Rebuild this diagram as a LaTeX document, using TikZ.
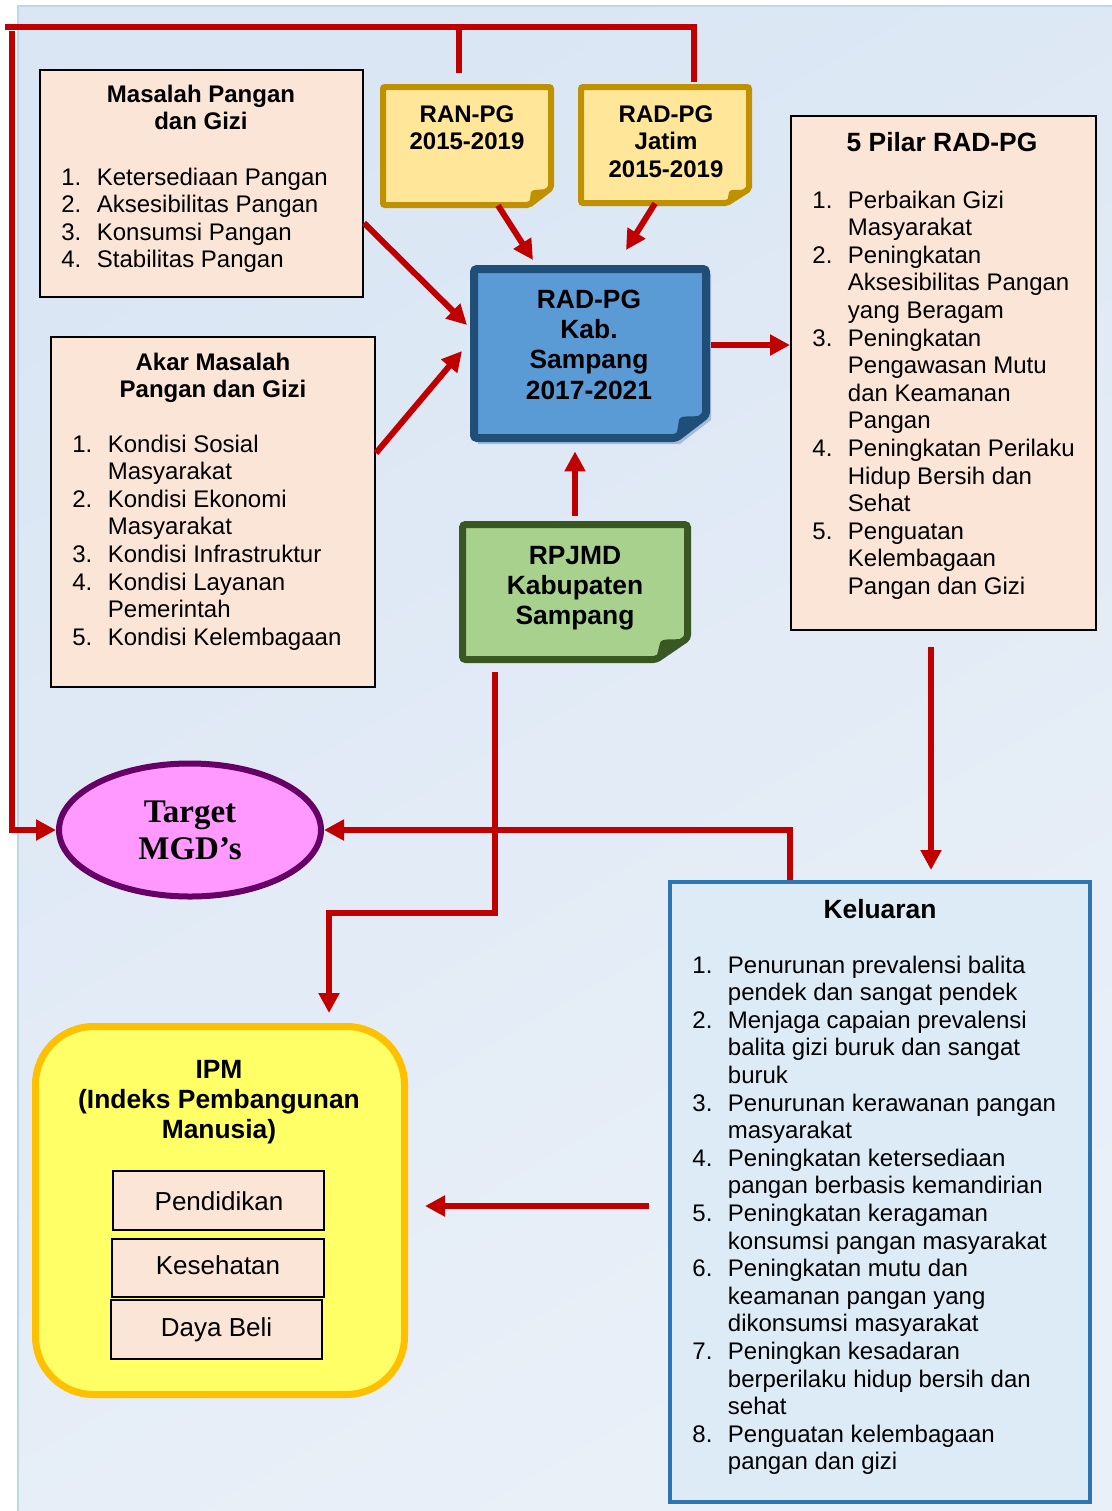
\documentclass[tikz,border=0pt]{standalone}
\usepackage{fontspec}
\setmainfont{Liberation Sans}
\newfontfamily\serifbf{Liberation Serif}
\usetikzlibrary{arrows.meta,fit,calc,shapes.geometric}
\definecolor{redl}{HTML}{C00000}
\definecolor{peach}{HTML}{FBE5D6}
\definecolor{goldb}{HTML}{BF9000}
\definecolor{goldf}{HTML}{FFE699}
\definecolor{blueb}{HTML}{1F4E79}
\definecolor{bluef}{HTML}{5B9BD5}
\definecolor{greenb}{HTML}{385723}
\definecolor{greenf}{HTML}{A9D18E}
\definecolor{pinkf}{HTML}{FF99FF}
\definecolor{purpb}{HTML}{660066}
\definecolor{kelb}{HTML}{2E75B6}
\definecolor{kelf}{HTML}{DDEBF7}
\definecolor{ipmf}{HTML}{FFFF66}
\definecolor{ipmb}{HTML}{FFC000}
\definecolor{bgA}{HTML}{DAE6F4}
\definecolor{bgB}{HTML}{EAF0F8}
\definecolor{bgline}{HTML}{BDD7EE}
\definecolor{kabshadow}{HTML}{A6BCDD}
\newcommand\nm[1]{\makebox[17.75pt][l]{#1}}
\newcommand\lst[1]{\begin{tabular}[t]{@{}l@{}}#1\end{tabular}}
\newcommand\ctr[1]{\begin{tabular}[t]{@{}c@{}}#1\end{tabular}}
\tikzset{
  conn/.style={draw=redl, line width=3pt},
  arr/.style={conn, -{Triangle[width=10pt,length=10pt]}},
  region/.style={inner sep=0pt},
  pbox/.style={region, draw=black, line width=1pt, fill=peach},
  sbox/.style={region, draw=black, line width=0.8pt, fill=peach},
  lsttext/.style={inner sep=0pt, anchor=base west, font=\fontsize{12}{13.8}\selectfont},
  ttl/.style={inner sep=0pt, anchor=base, font=\bfseries\fontsize{12}{13.8}\selectfont},
  bigttl/.style={inner sep=0pt, anchor=base, font=\bfseries\fontsize{13.2}{15.2}\selectfont},
  subtext/.style={inner sep=0pt, anchor=base, font=\fontsize{13}{15}\selectfont},
  goldnote/.style={draw=goldb, fill=goldf, line width=3pt, rounded corners=1pt},
}
\begin{document}
\begin{tikzpicture}[x=0.5pt,y=-0.5pt]
\useasboundingbox (0,0) rectangle (1112,1511);
% background
\path[top color=bgA, bottom color=bgB, shading angle=30] (18,6) rectangle (1112,1511);
\draw[bgline, line width=0.75pt] (1112,6) -- (18,6) -- (18,1511);

% ---- Masalah Pangan dan Gizi
\node[pbox, fit={(40,70)(363,297)}] (mas) {};
\node[ttl] (masT) at (201,102) {\ctr{Masalah Pangan\\dan Gizi}};
\node[lsttext] (masL) at (61,185) {\lst{\nm{1.}Ketersediaan Pangan\\\nm{2.}Aksesibilitas Pangan\\\nm{3.}Konsumsi Pangan\\\nm{4.}Stabilitas Pangan}};

% ---- Akar Masalah
\node[pbox, fit={(51,337)(375,687)}] (akar) {};
\node[ttl] (akarT) at (213,370) {\ctr{Akar Masalah\\Pangan dan Gizi}};
\node[lsttext] (akarL) at (72,452) {\lst{\nm{1.}Kondisi Sosial\\\nm{}Masyarakat\\\nm{2.}Kondisi Ekonomi\\\nm{}Masyarakat\\\nm{3.}Kondisi Infrastruktur\\\nm{4.}Kondisi Layanan\\\nm{}Pemerintah\\\nm{5.}Kondisi Kelembagaan}};

% ---- 5 Pilar
\node[pbox, fit={(791,116)(1096,630)}] (pilar) {};
\node[bigttl] (pilarT) at (942,151) {5 Pilar RAD-PG};
\node[lsttext] (pilarL) at (812,208) {\lst{\nm{1.}Perbaikan Gizi\\\nm{}Masyarakat\\\nm{2.}Peningkatan\\\nm{}Aksesibilitas Pangan\\\nm{}yang Beragam\\\nm{3.}Peningkatan\\\nm{}Pengawasan Mutu\\\nm{}dan Keamanan\\\nm{}Pangan\\\nm{4.}Peningkatan Perilaku\\\nm{}Hidup Bersih dan\\\nm{}Sehat\\\nm{5.}Penguatan\\\nm{}Kelembagaan\\\nm{}Pangan dan Gizi}};

% ---- RAN-PG note
\node[region, fit={(383,87)(551,205)}] (ran) {};
\draw[goldnote] (383,87) -- (551,87) -- (551,188) -- (529,205) -- (383,205) -- cycle;
\fill[goldb] (551,188) -- (529,205) -- (531,192) .. controls (533,188) and (540,191) .. (551,188) -- cycle;
\node[ttl] (ranT) at (467,122) {\ctr{RAN-PG\\2015-2019}};

% ---- RAD-PG Jatim note
\node[region, fit={(581,87)(749,203)}] (jatim) {};
\draw[goldnote] (581,87) -- (749,87) -- (749,189) -- (727,203) -- (581,203) -- cycle;
\fill[goldb] (749,189) -- (727,203) -- (729,192) .. controls (731,188) and (738,191) .. (749,189) -- cycle;
\node[ttl] (jatimT) at (666,122) {\ctr{RAD-PG\\Jatim\\2015-2019}};

% ---- RAD-PG Kab. Sampang
\fill[kabshadow] (478,274) -- (711,274) -- (711,420) -- (680,444) -- (478,444) -- cycle;
\node[region, fit={(474,269)(706,438)}] (kab) {};
\draw[draw=blueb, fill=bluef, line width=4pt, rounded corners=1.5pt] (474,269) -- (706,269) -- (706,415) -- (676,438) -- (474,438) -- cycle;
\fill[blueb] (706,415) -- (676,438) -- (679,420) .. controls (681,414) and (692,418) .. (706,415) -- cycle;
\node[bigttl] (kabT) at (589,308) {\ctr{RAD-PG\\Kab.\\Sampang\\2017-2021}};

% ---- RPJMD
\node[region, fit={(462.5,524.5)(687.5,659.5)}] (rpjmd) {};
\draw[draw=greenb, fill=greenf, line width=3.5pt, rounded corners=1.5pt] (462.5,524.5) -- (687.5,524.5) -- (687.5,638) -- (656,659.5) -- (462.5,659.5) -- cycle;
\fill[greenb] (687.5,638) -- (656,659.5) -- (660,643) .. controls (662,637) and (673,641) .. (687.5,638) -- cycle;
\node[bigttl] (rpjmdT) at (575,564) {\ctr{RPJMD\\Kabupaten\\Sampang}};

% ---- Target MGD's
\node[ellipse, draw=purpb, fill=pinkf, line width=3pt, minimum width=131pt, minimum height=66.5pt, inner sep=0pt, align=center, font=\serifbf\bfseries\fontsize{16.5}{18.5}\selectfont] (mgd) at (190,830) {Target\\MGD’s};

% ---- Keluaran
\node[region, draw=kelb, fill=kelf, line width=2pt, fit={(670,882)(1090,1502)}] (kel) {};
\node[bigttl] (kelT) at (880,918) {Keluaran};
\node[lsttext] (kelL) at (692,973) {\lst{\nm{1.}Penurunan prevalensi balita\\\nm{}pendek dan sangat pendek\\\nm{2.}Menjaga capaian prevalensi\\\nm{}balita gizi buruk dan sangat\\\nm{}buruk\\\nm{3.}Penurunan kerawanan pangan\\\nm{}masyarakat\\\nm{4.}Peningkatan ketersediaan\\\nm{}pangan berbasis kemandirian\\\nm{5.}Peningkatan keragaman\\\nm{}konsumsi pangan masyarakat\\\nm{6.}Peningkatan mutu dan\\\nm{}keamanan pangan yang\\\nm{}dikonsumsi masyarakat\\\nm{7.}Peningkan kesadaran\\\nm{}berperilaku hidup bersih dan\\\nm{}sehat\\\nm{8.}Penguatan kelembagaan\\\nm{}pangan dan gizi}};

% ---- IPM
\node[region, draw=ipmb, fill=ipmf, line width=3.5pt, rounded corners=29pt, fit={(35.5,1026.5)(404.5,1394.5)}] (ipm) {};
\node[bigttl] (ipmT) at (219,1078) {\ctr{IPM\\(Indeks Pembangunan\\Manusia)}};
\node[sbox, fit={(113,1171)(324,1230)}] (pend) {};
\node[subtext] (pendT) at (219,1210) {Pendidikan};
\node[sbox, fit={(112,1239)(324,1297)}] (kes) {};
\node[subtext] (kesT) at (218,1274) {Kesehatan};
\node[sbox, fit={(111,1300)(322,1359)}] (daya) {};
\node[subtext] (dayaT) at (216.5,1336) {Daya Beli};

% ---- connectors
\coordinate (ranTop) at (459,73);
\coordinate (jatimTop) at (694,82);
\coordinate (leftTop) at (12,31);
\draw[conn] (jatimTop) -- (694,27) -- (5,27);
\draw[conn] (ranTop) -- (459,27);
\draw[arr] (leftTop) -- (12,830) -- (mgd.west);

\draw[arr] (mas.east |- 0,223) -- (467,325);
\draw[arr] (akar.east |- 0,453) -- (462,351);
\draw[arr] (ran.south -| 498,0) -- (533,260);
\draw[arr] (jatim.south -| 655,0) -- (626,250);
\draw[arr, shorten <=2.5pt] (kab.east |- 0,345) -- (pilar.west |- 0,345);
\draw[arr, shorten <=4pt, shorten >=6.5pt] (rpjmd.north -| 575,0) -- (kab.south -| 575,0);
\draw[arr, shorten <=8pt, shorten >=5pt] (pilar.south -| 931,0) -- (kel.north -| 931,0);
\draw[arr] (kel.north -| 790,0) |- (mgd.east);
\coordinate (rpjmdOut) at (495,672);
\draw[arr, shorten >=5pt] (rpjmdOut) -- (495,913) -- (329,913) -- (ipm.north -| 329,0);
\draw[arr, shorten <=9.5pt, shorten >=8.5pt] (kel.west |- 0,1206) -- (ipm.east |- 0,1206);
\end{tikzpicture}
\end{document}
